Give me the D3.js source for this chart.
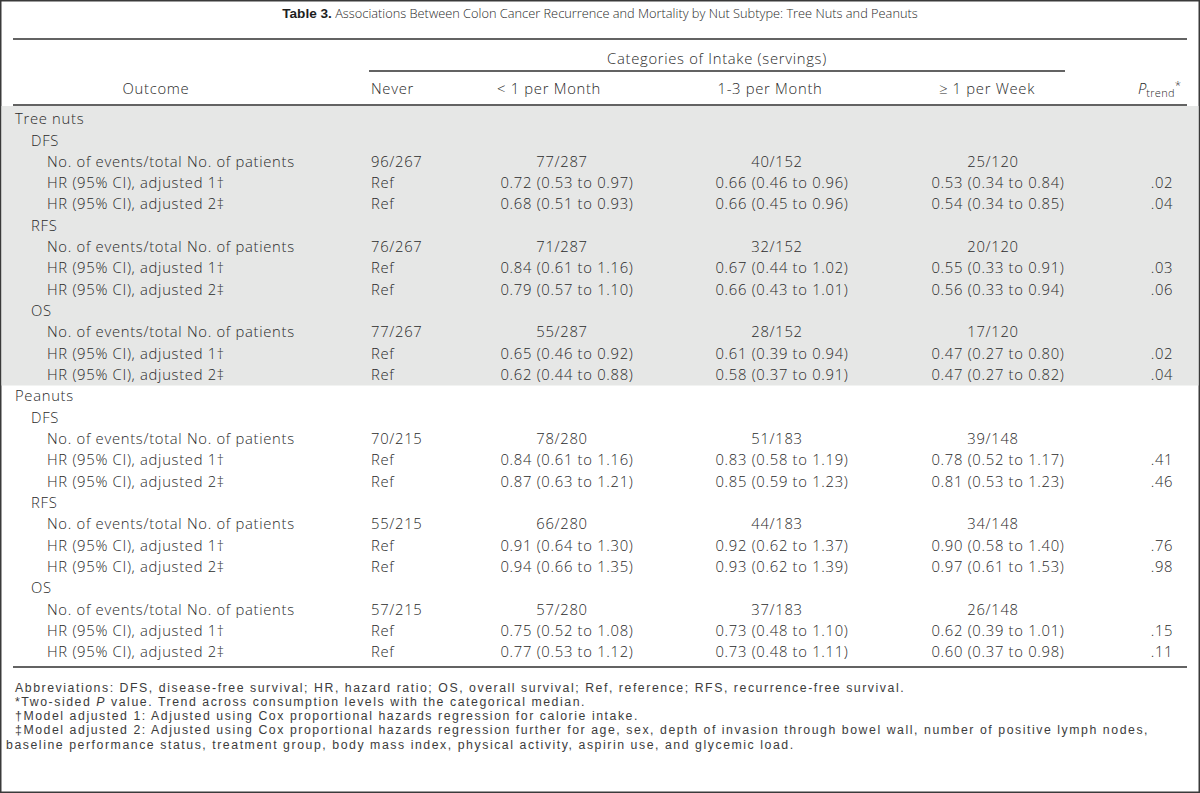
<!DOCTYPE html>
<html>
<head>
<meta charset="utf-8">
<script src="https://cdn.jsdelivr.net/npm/d3@7"></script>
<style>
  html, body { margin: 0; padding: 0; background: #fff; }
  svg { display: block; }
  text { font-family: "Open Sans", "Liberation Sans", Arial, sans-serif; font-weight: 300; fill: #2a2a2a; }
  text.footnotes { font-family: "Liberation Sans", Arial, sans-serif; font-weight: normal; fill: #3c3c3c; }
</style>
</head>
<body>
<svg id="chart" width="1200" height="793"></svg>
<script>
// ---------------- data ----------------
const titleBold = "Table 3.";
const titleText = "Associations Between Colon Cancer Recurrence and Mortality by Nut Subtype: Tree Nuts and Peanuts";
const spannerLabel = "Categories of Intake (servings)";
const outcomeHeader = "Outcome";
const categories = ["Never", "< 1 per Month", "1-3 per Month", "\u2265 1 per Week"];
const groups = ["Tree nuts", "Peanuts"];
const outcomes = ["DFS", "RFS", "OS"];
const rowLabels = ["No. of events/total No. of patients", "HR (95% CI), adjusted 1\u2020", "HR (95% CI), adjusted 2\u2021"];
const refLabel = "Ref";

// events per outcome (DFS, RFS, OS) x category
const treeEvents = [[96, 77, 40, 25], [76, 71, 32, 20], [77, 55, 28, 17]];
const treeTotals = [267, 287, 152, 120];
const peanutEvents = [[70, 78, 51, 39], [55, 66, 44, 34], [57, 57, 37, 26]];
const peanutTotals = [215, 280, 183, 148];

// HR [estimate, lower, upper] for categories 2..4 ; per outcome: [adj1, adj2]
const treeHR = [
  [[[0.72, 0.53, 0.97], [0.66, 0.46, 0.96], [0.53, 0.34, 0.84]],
   [[0.68, 0.51, 0.93], [0.66, 0.45, 0.96], [0.54, 0.34, 0.85]]],
  [[[0.84, 0.61, 1.16], [0.67, 0.44, 1.02], [0.55, 0.33, 0.91]],
   [[0.79, 0.57, 1.10], [0.66, 0.43, 1.01], [0.56, 0.33, 0.94]]],
  [[[0.65, 0.46, 0.92], [0.61, 0.39, 0.94], [0.47, 0.27, 0.80]],
   [[0.62, 0.44, 0.88], [0.58, 0.37, 0.91], [0.47, 0.27, 0.82]]]
];
const peanutHR = [
  [[[0.84, 0.61, 1.16], [0.83, 0.58, 1.19], [0.78, 0.52, 1.17]],
   [[0.87, 0.63, 1.21], [0.85, 0.59, 1.23], [0.81, 0.53, 1.23]]],
  [[[0.91, 0.64, 1.30], [0.92, 0.62, 1.37], [0.90, 0.58, 1.40]],
   [[0.94, 0.66, 1.35], [0.93, 0.62, 1.39], [0.97, 0.61, 1.53]]],
  [[[0.75, 0.52, 1.08], [0.73, 0.48, 1.10], [0.62, 0.39, 1.01]],
   [[0.77, 0.53, 1.12], [0.73, 0.48, 1.11], [0.60, 0.37, 0.98]]]
];
// P trend per outcome [adj1, adj2]
const treePtrend = [[".02", ".04"], [".03", ".06"], [".02", ".04"]];
const peanutPtrend = [[".41", ".46"], [".76", ".98"], [".15", ".11"]];

const footnotes = [
  "Abbreviations: DFS, disease-free survival; HR, hazard ratio; OS, overall survival; Ref, reference; RFS, recurrence-free survival.",
  "*Two-sided |P| value. Trend across consumption levels with the categorical median.",
  "\u2020Model adjusted 1: Adjusted using Cox proportional hazards regression for calorie intake.",
  "\u2021Model adjusted 2: Adjusted using Cox proportional hazards regression further for age, sex, depth of invasion through bowel wall, number of positive lymph nodes,",
  "baseline performance status, treatment group, body mass index, physical activity, aspirin use, and glycemic load."
];

// ---------------- build rows ----------------
const fmt = d3.format(".2f");
const hrText = h => `${fmt(h[0])} (${fmt(h[1])} to ${fmt(h[2])})`;
const groupData = [
  {events: treeEvents, totals: treeTotals, hr: treeHR, p: treePtrend},
  {events: peanutEvents, totals: peanutTotals, hr: peanutHR, p: peanutPtrend}
];
const rows = [];
groups.forEach((g, gi) => {
  rows.push({label: g, level: 0, group: gi, cells: null});
  outcomes.forEach((o, oi) => {
    rows.push({label: o, level: 1, group: gi, cells: null});
    const gd = groupData[gi];
    rows.push({label: rowLabels[0], level: 2, group: gi, kind: "n",
      cells: gd.events[oi].map((e, ci) => `${e}/${gd.totals[ci]}`), p: ""});
    [0, 1].forEach(a => {
      rows.push({label: rowLabels[a + 1], level: 2, group: gi, kind: "hr",
        cells: [refLabel].concat(gd.hr[oi][a].map(hrText)), p: gd.p[oi][a]});
    });
  });
});

// ---------------- layout ----------------
const W = 1200, H = 793;
const svg = d3.select("#chart");
const y = d3.scaleLinear().domain([0, rows.length - 1]).range([119, 652]);
const indent = d3.scaleOrdinal().domain([0, 1, 2]).range([15, 31, 47]);
// category column anchors (first column left aligned, others centered)
const colX = d3.scaleOrdinal().domain(categories).range([371, 567, 782, 998]);
const headX = d3.scaleOrdinal().domain(categories).range([371, 549, 770, 987]);
const nShift = -5;
const pX = 1162;
const fs = 14.8;
const ls = "0.7px";

// outer frame
svg.append("rect").attr("x", 0.75).attr("y", 0.75).attr("width", W - 1.5).attr("height", H - 1.5)
  .attr("fill", "#fff").attr("stroke", "#3a3a3a").attr("stroke-width", 1.5);

// shaded block for first group
const firstGroupEnd = rows.findIndex(r => r.group === 1);
svg.append("rect").attr("x", 1.5).attr("y", 106)
  .attr("width", W - 3).attr("height", (y(firstGroupEnd - 1) + y(firstGroupEnd)) / 2 - 106)
  .attr("fill", "#e6e7e6");

// title
const t = svg.append("text").attr("x", W / 2).attr("y", 14).attr("dy", "0.35em")
  .attr("text-anchor", "middle").style("font-size", "12.8px");
t.append("tspan").text(titleBold).style("font-weight", "bold")
  .style("font-family", "'Liberation Sans Narrow', 'Liberation Sans', Arial, sans-serif").style("font-size", "13.6px").style("fill", "#1e1e1e");
t.append("tspan").text(" " + titleText);

// rules
const rule = (x1, x2, yy, w) => svg.append("line").attr("x1", x1).attr("x2", x2)
  .attr("y1", yy).attr("y2", yy).attr("stroke", "#2f2f2f").attr("stroke-width", w);
rule(13, 1187, 39, 1.6);
rule(369, 1065, 71, 1.6);
rule(13, 1187, 105, 1.6);
rule(13, 1187, 667, 1.6);

// header
const txt = sel => sel.style("font-size", fs + "px").style("letter-spacing", ls);
txt(svg.append("text").attr("x", 717).attr("y", 59).attr("dy", "0.35em").attr("text-anchor", "middle"))
  .text(spannerLabel);
txt(svg.append("text").attr("x", 156).attr("y", 89).attr("dy", "0.35em").attr("text-anchor", "middle"))
  .text(outcomeHeader);
txt(svg.selectAll("text.cathead").data(categories).join("text").attr("class", "cathead")
  .attr("x", d => headX(d))
  .attr("y", 89).attr("dy", "0.35em")
  .attr("text-anchor", (d, i) => i === 0 ? "start" : "middle"))
  .text(d => d);
const ph = svg.append("text").attr("x", 1138).attr("y", 89).attr("dy", "0.35em").style("font-size", fs + "px");
ph.append("tspan").text("P").style("font-style", "italic");
ph.append("tspan").text("trend").attr("dy", "0.3em").style("font-size", "11px").style("letter-spacing", "0.3px");
ph.append("tspan").text("*").attr("dy", "-0.75em").style("font-size", "11.5px");

// body rows
const rg = svg.selectAll("g.row").data(rows).join("g").attr("class", "row")
  .attr("transform", (d, i) => `translate(0,${y(i)})`);
txt(rg.append("text").attr("x", d => indent(d.level)).attr("dy", "0.35em"))
  .text(d => d.label);
txt(rg.filter(d => d.cells).selectAll("text.cell").data(d => d.cells.map((c, ci) => ({c, ci, kind: d.kind})))
  .join("text").attr("class", "cell")
  .attr("x", d => d.ci === 0 ? colX(categories[0]) : colX(categories[d.ci]) + (d.kind === "n" ? nShift : 0))
  .attr("dy", "0.35em")
  .attr("text-anchor", d => d.ci === 0 ? "start" : "middle"))
  .text(d => d.c);
txt(rg.filter(d => d.cells && d.p).append("text").attr("x", pX).attr("dy", "0.35em")
  .attr("text-anchor", "middle"))
  .text(d => d.p);

// footnotes: one text block, one line per footnote
const fy = d3.scaleLinear().domain([0, footnotes.length - 1]).range([691.5, 748.5]);
const fn = svg.append("text").attr("class", "footnotes")
  .style("font-size", "12.3px").style("letter-spacing", "1.55px");
footnotes.forEach((f, i) => {
  const line = fn.append("tspan").attr("x", i === 4 ? 6 : 15).attr("y", fy(i));
  f.split("|").forEach((part, pi) => {
    line.append("tspan").text(part).style("font-style", pi === 1 ? "italic" : null);
  });
});
</script>
</body>
</html>
